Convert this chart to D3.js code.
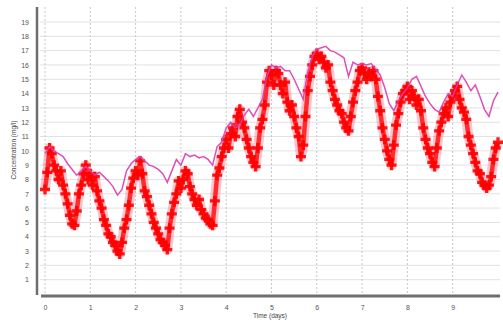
<!DOCTYPE html>
<html><head><meta charset="utf-8">
<script src="https://cdn.jsdelivr.net/npm/d3@7"></script>
<style>body{margin:0;background:#fff}svg{display:block}</style>
</head><body><svg id="c" width="503" height="321"></svg>
<script>
const xTicks = [0,1,2,3,4,5,6,7,8,9];
const yTicks = [1,2,3,4,5,6,7,8,9,10,11,12,13,14,15,16,17,18,19];
const xLabel = "Time (days)";
const yLabel = "Concentration (mg/l)";
// measured concentration, every 0.05 day
const measuredStep = 0.05;
const measured = [
7.3,8.5,10.2,9.8,9.0,8.6,8.0,8.6,7.6,7.0,6.3,5.5,4.9,4.8,5.8,7.0,7.6,8.4,9.0,8.0,
8.4,7.6,8.2,7.2,6.5,6.0,5.2,4.8,4.2,4.0,3.6,3.4,3.0,2.8,3.6,4.6,5.2,6.2,7.4,8.1,
8.6,8.3,9.3,8.4,7.2,6.8,6.2,5.6,5.0,4.6,4.2,3.8,3.6,3.4,3.1,4.6,5.6,6.4,7.0,7.9,
7.4,8.0,8.6,8.4,7.5,7.0,6.6,6.2,6.6,5.9,5.6,5.3,5.2,4.9,4.8,6.5,8.3,8.8,9.6,10.2,
10.8,10.2,11.2,11.6,11.0,12.4,12.9,12.0,11.6,10.8,10.2,9.6,9.2,8.9,10.2,11.6,12.2,13.2,14.8,15.6,
15.3,14.6,15.6,15.4,14.6,14.0,14.8,13.4,12.8,13.2,12.4,11.6,11.0,9.6,10.4,12.4,14.2,15.2,16.0,16.6,
16.8,16.4,16.6,16.2,15.8,16.0,14.8,14.2,13.6,13.2,12.8,12.6,12.0,11.6,11.4,12.4,13.4,14.2,14.8,15.6,
15.8,15.4,15.0,15.5,15.2,15.6,15.0,13.8,12.8,11.6,10.8,10.0,9.4,9.0,10.4,11.8,12.6,13.4,14.0,14.2,
14.5,13.6,14.2,13.8,13.2,13.6,12.8,11.6,10.8,10.2,9.8,9.2,8.9,10.2,11.4,12.0,12.6,13.0,12.4,13.4,
13.8,14.2,14.5,13.6,13.0,12.7,12.2,11.0,10.4,9.8,9.2,8.6,8.4,7.8,7.6,7.4,7.6,8.2,9.4,10.2,
10.6];
// modelled concentration, every 0.1 day
const modelStep = 0.1;
const modelled = [
9.8,10.3,10.0,9.8,9.6,9.1,8.7,8.3,8.6,8.9,
8.6,8.3,8.5,8.2,7.9,7.5,6.9,7.3,8.6,9.1,
9.4,9.6,9.3,9.0,8.9,8.7,8.4,7.8,8.6,9.4,
9.0,9.8,9.6,9.7,9.5,9.6,9.4,9.0,10.3,10.6,
11.6,12.0,11.6,11.8,12.5,12.9,12.4,13.0,13.6,15.2,
16.0,15.8,15.9,15.6,15.6,15.0,14.3,13.6,15.5,16.6,
17.1,17.2,17.3,17.0,16.9,16.7,16.5,15.2,16.2,16.0,
16.1,16.0,16.1,15.7,15.3,14.4,13.3,12.8,13.5,14.0,
14.4,15.0,15.2,14.5,13.8,13.3,12.9,12.7,13.4,14.0,
13.8,14.6,15.3,14.8,14.2,14.6,13.8,12.9,12.4,13.5,
14.1];

const svg = d3.select("#c");
const x = d3.scaleLinear().domain([0,10]).range([45,498]);
const y = d3.scaleLinear().domain([0,19]).range([294,22]);
const plotTop = 7;

svg.append("g").selectAll("line").data(yTicks).join("line")
  .attr("x1",40).attr("x2",500).attr("y1",d=>y(d)).attr("y2",d=>y(d))
  .attr("stroke","#e2e2e2").attr("stroke-width",1);
svg.append("g").selectAll("line").data(xTicks).join("line")
  .attr("x1",d=>x(d)).attr("x2",d=>x(d)).attr("y1",plotTop).attr("y2",294)
  .attr("stroke","#c8c8c8").attr("stroke-width",1).attr("stroke-dasharray","2,2");

const mData = measured.map((v,i)=>({t:i*measuredStep,v}));
const mLine = d3.line().x(d=>x(d.t)).y(d=>y(d.v));
svg.append("path").datum(mData).attr("d", mLine)
  .attr("fill","none").attr("stroke","#ff4060").attr("stroke-width",10)
  .attr("stroke-linejoin","round").attr("opacity",0.3);
svg.append("path").datum(mData).attr("d", mLine)
  .attr("fill","none").attr("stroke","#ff1a1a").attr("stroke-width",4.5)
  .attr("stroke-linejoin","round").attr("opacity",0.9);
const plus = d3.symbol().type(d3.symbolCross).size(55);
svg.append("g").selectAll("path").data(mData).join("path")
  .attr("transform",d=>`translate(${x(d.t)},${y(d.v)})`)
  .attr("d",plus).attr("fill","#ff0000").attr("opacity",0.9);

const pData = modelled.map((v,i)=>({t:i*modelStep,v}));
svg.append("path").datum(pData)
  .attr("d", d3.line().x(d=>x(d.t)).y(d=>y(d.v)))
  .attr("fill","none").attr("stroke","#dc3cb0").attr("stroke-width",1.5).attr("opacity",0.9);

const yAxis = svg.append("g").attr("transform","translate(37,0)")
  .call(d3.axisLeft(y).tickValues(yTicks).tickSize(0).tickPadding(8));
yAxis.select(".domain").remove();
svg.append("line").attr("x1",37).attr("x2",37).attr("y1",plotTop).attr("y2",295)
  .attr("stroke","#6e6e6e").attr("stroke-width",2.5);
const xAxis = svg.append("g").attr("transform","translate(0,296)")
  .call(d3.axisBottom(x).tickValues(xTicks).tickSize(0).tickPadding(9));
xAxis.select(".domain").remove();
svg.append("line").attr("x1",41).attr("x2",500).attr("y1",296).attr("y2",296)
  .attr("stroke","#6e6e6e").attr("stroke-width",3);
svg.selectAll(".tick text").attr("font-family","Liberation Sans, Arial, sans-serif")
  .attr("font-size",7).attr("fill","#555");

svg.append("text").attr("x",270).attr("y",318).attr("text-anchor","middle")
  .attr("font-family","Liberation Sans, Arial, sans-serif").attr("font-size",6.5).attr("fill","#444")
  .text(xLabel);
svg.append("text").attr("transform","translate(16,150) rotate(-90)").attr("text-anchor","middle")
  .attr("font-family","Liberation Sans, Arial, sans-serif").attr("font-size",6.5).attr("fill","#444")
  .text(yLabel);
</script></body></html>
